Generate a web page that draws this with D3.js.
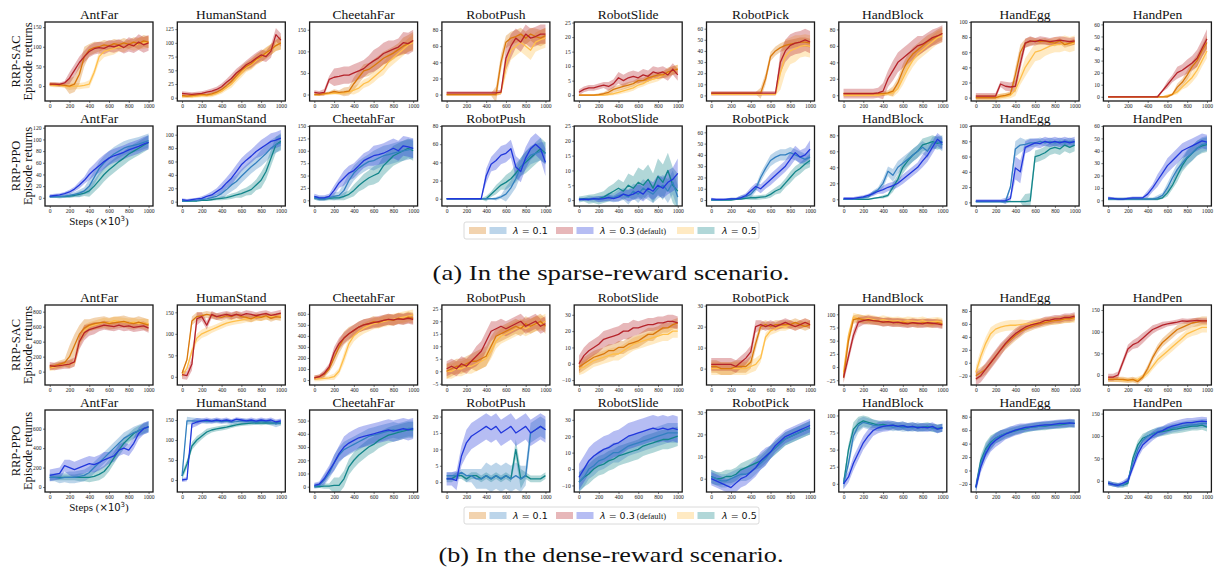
<!DOCTYPE html>
<html><head><meta charset="utf-8">
<script src="https://cdn.jsdelivr.net/npm/d3@7"></script>
<style>body{margin:0;background:#fff}</style>
</head><body><svg id="c" width="1214" height="568"></svg>
<script>
// ---------- DATA ----------
const envs = ["AntFar","HumanStand","CheetahFar","RobotPush","RobotSlide","RobotPick","HandBlock","HandEgg","HandPen"];
const steps = [0,50,100,150,200,250,300,350,400,450,500,550,600,650,700,750,800,850,900,950,1000];
const xTicks = [0,200,400,600,800,1000];
const lambdas = ["0.1","0.3","0.5"];

// Sparse reward, RRP-SAC
const sparseSAC_l01 = [
[5,4,3,2,0,5,30,75,92,98,100,105,102,108,105,110,106,112,108,115,112],
[4,3,4,5,6,5,7,10,15,22,30,40,50,57,62,70,75,82,88,95,100],
[0,0,2,4,7,5,6,8,25,40,55,58,66,75,84,90,96,104,112,118,125],
[0,0,0,0,0,0,0,0,0,0,0,40,65,70,72,75,70,75,72,70,73],
[0,0,0,0,0.2,0.5,1,2,2.5,3,3.5,4,5,5,6,6.5,7,7,8,8.5,9],
[2,2,2,2,2,2,2,2,2,2,2,15,35,40,43,45,46,47,48,48,47],
[2,2,2,2,2,2,2,2,2,3,5,15,30,42,50,55,60,65,68,72,75],
[0,0,0,0,0,2,3,5,30,60,72,74,75,74,75,73,72,75,70,72,74],
[0,0,0,0,0,0,0,0,0,0,0,0,0,2,8,12,18,25,30,38,45]];
const sparseSAC_l03 = [
[5,5,4,8,20,40,60,75,88,95,98,96,102,100,104,98,106,102,112,105,110],
[8,7,6,7,8,10,12,15,20,28,35,45,52,60,65,72,78,75,85,115,105],
[5,3,5,35,40,42,45,45,50,55,60,70,78,85,95,100,105,110,120,118,125],
[2,2,2,2,2,2,2,2,2,2,2,3,45,60,70,65,75,70,72,75,75],
[1,2,2.5,2.5,3,3.5,3,4,6,5,6,6.5,6,7,6.5,8,7.5,8,7,9,7],
[2,2,2,2,2,2,2,2,2,2,2,2,2,2,30,40,45,47,48,50,48],
[2,2,2,2,2,2,2,3,5,20,30,40,45,50,55,60,62,66,70,72,75],
[2,2,2,2,2,18,15,14,15,45,72,75,74,76,75,74,75,76,75,74,75],
[0,0,0,0,0,0,0,0,0,0,0,5,10,15,20,22,25,28,32,40,48]];
const sparseSAC_l05 = [
[3,2,2,0,-2,0,0,2,5,35,75,88,92,95,100,98,105,102,108,110,112],
[2,3,2,3,4,4,5,8,12,18,25,35,45,55,60,68,75,80,88,95,100],
[0,0,1,2,3,3,4,6,10,15,25,30,40,50,60,75,85,95,105,115,120],
[0,0,0,0,0,0,0,0,0,0,0,2,35,55,60,65,60,55,65,68,70],
[0,0,0,0,0,0,0.3,0.5,1,1.5,2,2.5,3.5,4,5,5.5,6,7,7.5,8.5,9],
[1,1,1,1,1,1,1,1,1,1,1,1,1,1,20,35,40,42,44,45,44],
[0,0,0,0,0,0,0,0,1,2,3,8,20,32,42,50,55,60,65,70,72],
[0,0,0,0,0,1,2,3,10,25,40,50,60,62,65,68,70,70,72,70,72],
[0,0,0,0,0,0,0,0,0,0,0,0,1,2,4,8,12,16,22,30,38]];
// half-widths of the shaded band, one per 100k-step block
const sparseSAC_sd01 = [[5,5,20,25,15,12,12,12,12,15,15],[3,3,3,4,5,7,8,9,10,10,12],[3,3,5,10,15,15,15,15,15,20,20],[1.5,1.5,1.5,1.5,1.5,10,8,8,8,10,10],[0.3,0.3,0.5,1,1,1,1,1.2,1.2,1.5,1.5],[1,1,1,1,1,5,4,4,4,4,4],[2,2,2,2,3,6,8,8,8,8,8],[3,3,3,3,10,6,4,4,4,4,4],[0.5,0.5,0.5,0.5,0.5,0.5,1,3,4,5,6]];
const sparseSAC_sd03 = [[5,5,15,15,15,15,15,15,18,20,20],[4,4,4,5,6,8,8,10,10,12,12],[5,8,20,20,20,20,25,25,20,25,25],[2,2,2,2,2,3,15,12,12,12,12],[1,1,1,1.5,2,2,2,2,2,2,2],[2,2,2,2,2,2,2,10,10,10,10],[6,6,6,6,10,12,12,12,10,10,10],[4,4,4,6,8,6,5,5,5,5,5],[0.5,0.5,0.5,0.5,0.5,1,3,5,6,7,8]];
const sparseSAC_sd05 = [[5,5,8,8,10,15,15,12,12,15,15],[3,3,3,4,5,7,8,9,10,10,12],[3,3,3,5,10,10,12,15,15,15,20],[1,1,1,1,1,2,12,12,12,12,12],[0.3,0.3,0.3,0.5,0.8,1,1,1.2,1.2,1.5,1.5],[1,1,1,1,1,1,1,15,12,10,10],[2,2,2,2,2,5,8,8,8,8,8],[4,4,4,4,8,12,12,10,10,10,10],[0.5,0.5,0.5,0.5,0.5,0.5,1,2,4,5,6]];
const sparseSAC_ticks = [[0,50,100,150],[0,25,50,75,100,125],[0,50,100,150],[0,20,40,60,80],[0,5,10,15,20,25],[0,10,20,30,40,50,60],[0,20,40,60,80],[0,20,40,60,80,100],[0,10,20,30,40,50,60]];
const sparseSAC_dom = [[-38,163],[-6,138],[-15,168],[-8,90],[-2,25.2],[-5,66],[-7,89],[-4.5,100],[-3.5,62]];

// Sparse reward, RRP-PPO
const sparsePPO_l01 = [
[2,2,2,3,4,6,8,12,20,35,50,60,68,75,80,85,88,90,92,95,98],
[1,1,2,2,3,4,6,8,12,18,25,30,38,45,52,58,65,72,80,85,88],
[5,3,3,5,8,10,20,40,55,65,72,78,80,85,90,92,95,98,100,102,105],
[0,0,0,0,0,0,0,0,0,0,0,2,5,12,22,35,42,48,50,52,50],
[0.3,0.2,0.5,0.3,0.4,0.5,1,0.8,1.5,2,1,3,2,4,3,2,4,5,3,6,1],
[0,0,0,0.5,1,1,2,3,5,10,20,28,35,38,40,40,42,40,38,36,38],
[0,0,0,1,2,3,8,12,20,35,30,40,45,50,55,60,65,60,70,72,68],
[1,1,1,1,1,1,1,20,70,75,76,78,78,80,78,80,78,80,78,80,78],
[1,1,1,1,1,1,1,1,1,1,2,4,10,18,25,30,35,38,42,45,46]];
const sparsePPO_l03 = [
[3,4,5,7,10,15,22,30,40,48,55,62,68,72,75,78,82,85,88,92,95],
[3,2,3,4,5,8,10,15,20,28,35,45,55,62,68,75,80,85,90,92,95],
[8,5,5,8,20,35,45,55,60,70,80,85,90,92,95,100,105,100,110,108,105],
[0,0,0,0,0,0,0,0,25,38,42,48,50,55,35,30,45,55,60,55,40],
[0.2,0.3,0.2,0.5,0.3,0.5,0.8,0.5,1,2,1.5,2,3,2,4,3,5,4,6,7,9],
[1,0.5,0.5,0.5,1,1,2,4,8,12,10,14,18,22,26,30,36,42,38,40,45],
[1,1,1,2,3,5,7,10,12,15,17,20,25,30,35,40,48,55,65,75,70],
[2,2,2,2,2,2,2,5,45,40,72,75,78,77,80,78,80,78,80,78,80],
[2,1.5,1,1,1.5,2,2,2,5,10,16,22,28,32,36,40,42,44,46,48,47]];
const sparsePPO_l05 = [
[2,2,2,2,3,4,6,8,12,20,30,40,48,55,62,68,75,80,85,90,95],
[1,1,1,1,2,2,3,4,5,6,8,10,12,15,18,25,32,45,65,85,90],
[5,3,3,4,5,5,8,12,20,30,38,45,50,55,70,80,90,95,100,105,100],
[0,0,0,0,0,0,0,0,0,5,10,15,18,22,28,35,40,45,50,55,50],
[0.2,0.5,0.3,0.5,0.5,1,2,3,4,3,5,4,6,5,7,4,8,6,10,5,3],
[0,0,0,0,0,0.5,1,1.5,2,2,2.5,3,5,8,10,15,20,25,28,32,35],
[0,0,0,0,0,0,1,2,3,5,15,25,40,48,55,60,68,70,72,70,72],
[1,1,1,1,1,1,1,1,1,1,1,2,60,62,65,70,72,70,75,72,75],
[1,1,1,1,1,1,1,1,1,1,1,2,6,12,20,28,34,38,42,44,45]];
const sparsePPO_sd01 = [[2,3,4,6,12,12,12,12,12,12,12],[1,1,2,4,8,10,10,10,12,12,12],[4,4,8,15,15,15,20,20,20,20,20],[0.5,0.5,0.5,0.5,0.5,2,8,10,10,10,12],[0.5,1,1,1.5,2,2.5,3,3,3.5,4,4],[0.5,0.5,1,2,3,4,5,5,5,5,6],[1,1,2,3,6,8,8,8,8,8,8],[1,1,1,3,10,6,5,5,5,5,5],[1,1,1,1,1,2,4,5,6,6,6]];
const sparsePPO_sd03 = [[3,3,4,6,10,12,12,12,12,12,12],[2,2,3,5,8,10,10,10,12,12,12],[5,5,10,15,15,15,20,20,20,20,20],[0.5,0.5,0.5,0.5,8,10,10,12,12,12,15],[0.5,0.5,1,1,1.5,2,2.5,3,3.5,4,5],[1,1,1,2,3,4,5,5,6,6,8],[2,2,2,3,5,5,6,6,8,8,8],[2,2,2,4,15,8,6,6,6,6,6],[1,1,1,1,3,5,6,6,6,6,6]];
const sparsePPO_sd05 = [[2,2,3,5,10,12,12,12,12,12,12],[1,1,1,2,3,4,6,8,12,12,12],[4,4,5,8,12,15,18,20,20,20,20],[0.5,0.5,0.5,0.5,3,5,8,10,12,12,12],[1,1.5,2,2.5,3,4,5,5,6,6,6],[0.5,0.5,0.5,1,2,2,3,4,5,5,6],[1,1,1,1,2,6,8,8,8,8,8],[1,1,1,1,1,10,8,8,8,8,8],[1,1,1,1,1,1,3,5,6,6,6]];
const sparsePPO_ticks = [[0,20,40,60,80,100,120],[0,20,40,60,80,100],[0,25,50,75,100,125,150],[0,20,40,60,80],[0,5,10,15,20,25],[0,10,20,30,40,50,60],[0,20,40,60,80],[0,20,40,60,80,100],[0,10,20,30,40,50,60]];
const sparsePPO_dom = [[-14,123],[-6.5,113],[-11.5,150],[-8,80],[-2,25],[-5.3,65.6],[-8.4,91.6],[-4.8,100],[-4.6,60]];

// Dense reward, RRP-SAC
const denseSAC_l01 = [
[60,80,100,120,200,350,500,580,620,640,650,660,640,650,660,670,650,640,660,640,620],
[8,40,130,140,142,145,143,140,138,142,140,145,140,138,135,140,138,142,136,140,138],
[20,30,50,100,200,300,380,420,450,480,500,510,530,520,540,550,540,560,550,570,560],
[0,1,2,2,3,4,4,5,6,10,14,15,16,17,18,17,19,18,19,20,18],
[-2,0,2,4,5,6,8,8,10,10,12,13,14,16,18,18,20,22,22,24,25],
[1,1,0,0,0,1,1,1,3,12,20,21,20,21,21,21,21,22,21,20,21],
[-20,50,90,92,90,88,88,87,85,86,85,84,85,83,84,82,84,83,82,84,82],
[-20,-15,-10,0,10,20,28,35,42,48,52,55,58,60,62,64,65,66,68,68,70],
[-10,-10,-10,-10,-12,-10,-15,-5,15,40,60,75,85,95,105,110,115,120,122,125,125]];
const denseSAC_l03 = [
[80,70,80,90,100,130,400,520,560,580,600,620,610,600,620,600,610,590,600,610,580],
[5,3,30,135,140,120,145,140,143,145,142,145,143,147,145,142,145,147,143,145,148],
[20,30,60,120,250,330,380,420,450,480,500,510,520,530,540,550,545,555,550,560,550],
[1,2,1,3,2,4,6,8,12,16,17,18,17,18,19,20,18,19,20,18,19],
[0,5,8,10,12,15,16,17,18,20,20,22,22,23,24,24,25,25,26,26,25],
[2,2,2,2,2,1,3,5,8,20,21,20,21,20,21,22,21,20,21,22,21],
[-20,20,60,85,88,90,88,87,85,86,84,85,83,82,84,83,82,84,83,82,80],
[-25,-20,-10,0,10,20,30,38,45,50,55,58,60,62,65,66,68,68,70,70,72],
[-5,-5,0,30,60,70,75,85,95,105,110,115,118,120,122,125,124,125,126,125,125]];
const denseSAC_l05 = [
[50,60,80,100,100,120,400,550,600,620,640,660,650,680,670,660,650,660,640,650,640],
[2,20,60,90,100,105,110,115,120,125,128,130,132,135,135,138,138,140,140,140,142],
[10,10,15,20,30,80,200,330,400,440,470,490,510,520,530,540,550,560,570,580,590],
[0,0,1,1,2,2,3,4,5,8,12,14,15,16,17,18,17,18,19,19,20],
[-3,-2,0,2,3,4,5,6,6,8,10,12,13,14,15,16,17,18,18,20,20],
[0,0,0,0,0,0,0,0,1,2,5,15,18,19,20,20,21,20,21,22,21],
[-10,60,95,92,90,92,90,88,90,88,87,88,86,88,87,86,88,85,86,87,85],
[-15,10,30,45,52,55,57,58,58,59,60,60,62,63,64,65,65,66,67,68,68],
[-10,-10,-10,-12,-12,-12,-10,-5,5,20,35,45,55,65,75,85,95,100,105,110,110]];
const denseSAC_sd01 = [[40,50,150,120,80,80,80,80,80,80,80],[5,10,8,8,8,8,8,8,8,8,8],[20,30,60,60,50,50,50,50,50,50,50],[3,3,3,4,4,3,3,3,3,3,3],[4,4,4,4,4,4,4,4,3,3,3],[3,3,3,3,3,2,2,2,2,2,2],[10,8,8,8,8,8,8,8,8,8,8],[8,8,8,8,8,6,6,6,6,6,6],[6,6,6,6,8,10,10,10,10,10,10]];
const denseSAC_sd03 = [[50,50,60,100,80,60,60,60,60,60,60],[10,15,10,8,8,8,8,8,8,8,8],[20,30,50,50,50,50,50,50,50,50,50],[3,3,3,4,4,3,3,3,3,3,3],[5,5,5,5,5,5,4,4,4,4,4],[3,3,3,3,3,2,2,2,2,2,2],[10,10,8,8,8,8,8,8,8,8,8],[10,10,10,8,8,6,6,6,6,6,6],[8,8,10,12,10,8,6,6,6,6,6]];
const denseSAC_sd05 = [[40,40,50,80,60,60,60,60,60,60,60],[5,10,10,8,8,8,8,8,8,8,8],[20,20,30,50,50,50,50,50,50,50,50],[3,3,3,3,3,3,3,3,3,3,3],[4,4,4,4,4,4,4,4,4,4,4],[3,3,3,3,3,2,2,2,2,2,2],[8,8,8,8,8,8,8,8,8,8,8],[10,10,8,8,8,6,6,6,6,6,6],[6,6,6,6,8,10,10,10,10,12,12]];
const denseSAC_ticks = [[0,200,400,600,800],[0,50,100,150],[0,100,200,300,400,500,600],[-5,0,5,10,15,20,25],[-10,0,10,20,30],[0,10,20,30],[-25,0,25,50,75,100],[-20,0,20,40,60,80],[0,50,100,150]];
const denseSAC_dom = [[-178,889],[-19,167],[-45,680],[-5.5,26.5],[-13,36],[-7.8,30.3],[-34,117.6],[-34.4,89.3],[-23,161.5]];

// Dense reward, RRP-PPO
const densePPO_l01 = [
[100,100,90,100,100,100,110,120,150,200,250,300,350,400,450,500,530,560,580,600,620],
[10,148,148,147,148,146,147,148,146,147,145,146,148,147,146,145,147,146,145,140,144],
[5,10,50,100,180,240,280,300,320,340,360,380,390,400,410,420,430,420,430,440,440],
[2,2,2,3,2,2,1,1,2,1,2,1,2,1,2,1,2,15,16,17,16],
[-8,-5,0,2,5,6,8,10,10,12,14,15,16,17,18,19,20,21,22,22,22],
[1,0,-1,-1,0,1,2,2,3,5,7,9,12,14,16,18,19,20,21,22,23],
[0,30,70,85,90,88,86,85,84,85,83,84,82,83,82,84,82,83,82,80,82],
[-25,10,30,40,48,52,55,58,60,62,63,64,65,66,67,68,68,69,70,70,70],
[-5,-8,-10,-10,0,40,70,90,100,105,110,112,115,118,120,122,124,125,126,128,128]];
const densePPO_l03 = [
[120,130,140,220,200,180,200,220,240,230,250,280,300,320,380,400,380,450,550,600,620],
[0,2,140,145,148,150,147,150,148,150,147,152,150,148,150,147,150,148,150,145,148],
[10,20,60,120,180,250,300,330,350,370,380,390,400,410,420,430,420,430,440,430,440],
[1,1,0.5,8,12,14,15,16,17,16,17,15,16,17,15,16,17,15,16,17,16],
[-5,0,5,8,10,12,13,15,16,18,20,21,22,23,24,25,24,25,24,25,24],
[0,-1,-2,-3,-4,-2,0,1,3,5,8,10,12,15,17,19,20,21,22,23,24],
[0,10,30,45,60,70,78,82,84,85,86,84,85,83,84,82,83,82,84,80,82],
[-25,5,25,38,45,50,54,57,60,62,64,65,66,67,68,68,69,70,70,71,70],
[-5,-8,-10,-5,0,30,60,80,90,100,108,112,118,122,125,128,130,130,132,133,132]];
const densePPO_l05 = [
[100,100,100,100,100,100,100,100,100,110,130,160,220,300,380,450,500,550,580,600,620],
[10,40,85,100,110,120,125,128,130,132,135,138,140,141,142,143,142,143,142,143,142],
[0,0,5,5,10,10,60,150,200,240,270,300,320,350,370,390,400,410,420,430,430],
[1,1,2,2,1,2,2,1,2,1,2,1,2,1,10,1,2,1,1,1,2],
[-8,-5,-3,0,2,3,5,6,8,9,10,11,12,14,15,16,17,18,18,19,20],
[1,0,0,1,1,2,4,5,6,7,8,10,12,14,16,18,19,20,21,22,23],
[0,50,80,88,92,90,88,86,87,85,86,84,85,83,84,82,83,84,82,81,82],
[-25,15,32,42,48,52,55,57,59,61,62,64,65,66,66,67,68,68,69,70,70],
[-5,-8,-10,-10,-5,50,80,95,100,105,108,110,112,115,116,118,120,122,122,124,120]];
const densePPO_sd01 = [[40,50,60,60,60,60,60,60,60,60,60],[10,8,6,6,6,6,6,6,6,8,8],[20,40,60,60,60,60,60,60,60,60,60],[1,1,2,3,4,4,4,4,3,3,3],[6,6,6,6,6,6,6,6,6,6,6],[3,3,3,3,3,3,3,3,3,3,3],[8,10,8,8,6,6,6,6,6,6,6],[8,10,8,8,6,6,6,6,6,6,6],[5,5,8,10,10,10,10,10,10,10,10]];
const densePPO_sd03 = [[60,60,80,80,80,80,60,60,60,60,60],[5,10,6,6,6,5,5,6,6,6,6],[20,40,60,80,80,80,80,80,80,80,80],[2,3,4,4,4,4,4,4,4,4,4],[8,8,8,8,8,8,8,8,8,8,8],[3,3,4,4,4,4,3,3,3,3,3],[8,10,10,8,8,6,6,6,6,6,6],[8,10,10,8,8,6,6,6,6,6,6],[5,5,8,10,10,10,10,10,10,10,10]];
const densePPO_sd05 = [[30,30,30,40,50,60,60,60,50,50,50],[10,10,8,6,6,5,5,5,5,5,5],[10,20,60,60,60,60,60,60,60,60,60],[1,1,1,1,1,1,1,3,1,1,1],[6,6,6,6,6,6,6,6,6,6,6],[3,3,3,3,3,3,3,3,3,3,3],[8,10,8,6,6,6,6,6,6,6,6],[8,10,8,6,6,6,6,6,6,6,6],[5,5,8,10,10,10,10,10,10,10,10]];
const densePPO_ticks = [[0,200,400,600],[0,50,100,150],[0,100,200,300,400,500],[0,5,10,15,20],[-10,0,10,20,30],[0,10,20,30],[0,25,50,75,100],[-20,0,20,40,60,80],[0,50,100,150]];
const densePPO_dom = [[-51,792],[-30,175],[-40,580],[-3,22],[-14,36],[-6,31],[-12,108],[-32,90],[-25,158]];

// ---------- STYLE / LAYOUT ----------
const sacLine = ["#d9780c","#b5232a","#ffbf4a"];
const ppoLine = ["#3380c0","#2137dc","#12858a"];
const bandAlpha = 0.33;
const serif = "'Liberation Serif','Times New Roman',serif";
const sans = "'DejaVu Sans',sans-serif";
const svg = d3.select("#c");
svg.append("rect").attr("width",1214).attr("height",568).attr("fill","#fff");

const rows = [
 {lines:[sparseSAC_l01,sparseSAC_l03,sparseSAC_l05], sd:[sparseSAC_sd01,sparseSAC_sd03,sparseSAC_sd05], ticks:sparseSAC_ticks, dom:sparseSAC_dom, col:sacLine, label:"RRP-SAC", top:22, h:79, stepsLabel:false},
 {lines:[sparsePPO_l01,sparsePPO_l03,sparsePPO_l05], sd:[sparsePPO_sd01,sparsePPO_sd03,sparsePPO_sd05], ticks:sparsePPO_ticks, dom:sparsePPO_dom, col:ppoLine, label:"RRP-PPO", top:126, h:80, stepsLabel:true},
 {lines:[denseSAC_l01,denseSAC_l03,denseSAC_l05], sd:[denseSAC_sd01,denseSAC_sd03,denseSAC_sd05], ticks:denseSAC_ticks, dom:denseSAC_dom, col:sacLine, label:"RRP-SAC", top:305, h:80, stepsLabel:false},
 {lines:[densePPO_l01,densePPO_l03,densePPO_l05], sd:[densePPO_sd01,densePPO_sd03,densePPO_sd05], ticks:densePPO_ticks, dom:densePPO_dom, col:ppoLine, label:"RRP-PPO", top:410, h:82, stepsLabel:true}
];
const panelW = 108, colX0 = 45, colPitch = 132.3;
const drawOrder = [2,0,1];
let clipId = 0;

rows.forEach((row, r) => {
  envs.forEach((env, i) => {
    const left = colX0 + i*colPitch, top = row.top, h = row.h;
    const x = d3.scaleLinear().domain([-48,1045]).range([left, left+panelW]);
    const y = d3.scaleLinear().domain(row.dom[i]).range([top+h, top]);
    const g = svg.append("g");
    const cid = "clip"+(clipId++);
    g.append("clipPath").attr("id",cid).append("rect").attr("x",left).attr("y",top).attr("width",panelW).attr("height",h);
    const pg = g.append("g").attr("clip-path",`url(#${cid})`);
    drawOrder.forEach(k => {
      const vals = row.lines[k][i], sd = row.sd[k][i];
      const pts = steps.map((s,j)=>({s, lo: vals[j]-sd[Math.floor(j/2)], hi: vals[j]+sd[Math.floor(j/2)]}));
      pg.append("path").datum(pts)
        .attr("d", d3.area().x(d=>x(d.s)).y0(d=>y(d.lo)).y1(d=>y(d.hi)))
        .attr("fill", row.col[k]).attr("fill-opacity", bandAlpha).attr("stroke","none");
    });
    drawOrder.forEach(k => {
      const vals = row.lines[k][i];
      pg.append("path").datum(steps.map((s,j)=>({s, v: vals[j]})))
        .attr("d", d3.line().x(d=>x(d.s)).y(d=>y(d.v)))
        .attr("fill","none").attr("stroke", row.col[k]).attr("stroke-width",1.3).attr("stroke-linejoin","round");
    });
    const ya = g.append("g").attr("transform",`translate(${left},0)`)
      .call(d3.axisLeft(y).tickValues(row.ticks[i]).tickSize(2).tickPadding(1.5).tickFormat(d3.format("")));
    const xa = g.append("g").attr("transform",`translate(0,${top+h})`)
      .call(d3.axisBottom(x).tickValues(xTicks).tickSize(2).tickPadding(1.5).tickFormat(d3.format("")));
    [ya, xa].forEach(a => {
      a.select(".domain").remove();
      a.selectAll("line").attr("stroke","#222").attr("stroke-width",0.6);
      a.selectAll("text").attr("font-family",serif).attr("font-size",5.6).attr("fill","#222");
    });
    g.append("rect").attr("x",left).attr("y",top).attr("width",panelW).attr("height",h)
      .attr("fill","none").attr("stroke","#1a1a1a").attr("stroke-width",1.3);
    g.append("text").attr("x",left+panelW/2).attr("y",top-3.5).attr("text-anchor","middle")
      .attr("font-family",serif).attr("font-size",13.5).attr("fill","#111").text(env);
  });
  const cy = row.top + row.h/2;
  svg.append("text").attr("transform",`translate(19.5,${cy}) rotate(-90)`).attr("text-anchor","middle")
    .attr("font-family",serif).attr("font-size",12.5).attr("fill","#111").text(row.label);
  svg.append("text").attr("transform",`translate(32,${cy}) rotate(-90)`).attr("text-anchor","middle")
    .attr("font-family",serif).attr("font-size",12.5).attr("fill","#111").text("Episode returns");
  if (row.stepsLabel) {
    const t = svg.append("text").attr("x",colX0+panelW/2).attr("y",row.top+row.h+19).attr("text-anchor","middle")
      .attr("font-family",serif).attr("font-size",11).attr("fill","#111");
    t.append("tspan").text("Steps (");
    t.append("tspan").attr("font-family",sans).attr("font-size",10).text("×10");
    t.append("tspan").attr("font-family",sans).attr("font-size",7).attr("dy",-4).text("3");
    t.append("tspan").attr("dy",4).text(")");
  }
});

function legend(y0){
  const g = svg.append("g");
  g.append("rect").attr("x",464).attr("y",y0).attr("width",295).attr("height",17).attr("rx",2)
    .attr("fill","#fff").attr("stroke","#d0d0d0").attr("stroke-width",0.8);
  const items = [{x:469, extra:"", tx:513},{x:556, extra:" (default)", tx:600},{x:677, extra:"", tx:722}];
  items.forEach((it,k)=>{
    g.append("rect").attr("x",it.x).attr("y",y0+5).attr("width",17).attr("height",7).attr("fill",sacLine[k]).attr("fill-opacity",bandAlpha);
    g.append("rect").attr("x",it.x+20.5).attr("y",y0+5).attr("width",17).attr("height",7).attr("fill",ppoLine[k]).attr("fill-opacity",bandAlpha);
    const t = g.append("text").attr("x",it.tx).attr("y",y0+12.2).attr("font-family",sans).attr("font-size",9.5).attr("fill","#111");
    t.append("tspan").attr("font-style","italic").text("λ");
    t.append("tspan").text(" = "+lambdas[k]);
    if (it.extra) t.append("tspan").attr("font-family",serif).attr("font-size",8.5).text(it.extra);
  });
}
legend(222);
legend(507);

svg.append("text").attr("x",611).attr("y",280).attr("text-anchor","middle").attr("font-family",serif)
  .attr("font-size",21).attr("fill","#111").attr("textLength",357).attr("lengthAdjust","spacingAndGlyphs")
  .text("(a) In the sparse-reward scenario.");
svg.append("text").attr("x",611).attr("y",562).attr("text-anchor","middle").attr("font-family",serif)
  .attr("font-size",21).attr("fill","#111").attr("textLength",345).attr("lengthAdjust","spacingAndGlyphs")
  .text("(b) In the dense-reward scenario.");
</script></body></html>
